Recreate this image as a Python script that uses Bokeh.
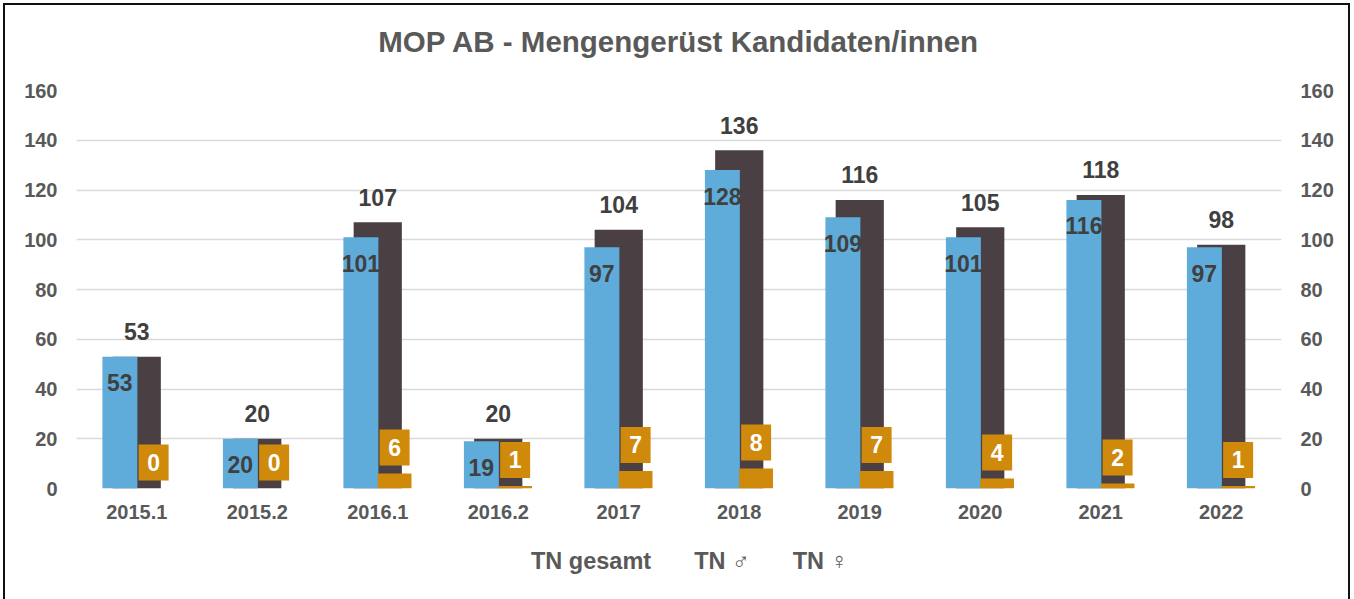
from bokeh.plotting import figure
from bokeh.models import (FactorRange, Range1d, ColumnDataSource, LinearAxis, FixedTicker,
                          LabelSet, Legend, LegendItem, CDSView, IndexFilter)
from bokeh.layouts import column
from bokeh.transform import dodge
from bokeh.core.properties import value
from bokeh.embed import file_html
from bokeh.resources import INLINE

# ---- data ----
categories = ["2015.1", "2015.2", "2016.1", "2016.2", "2017", "2018", "2019", "2020", "2021", "2022"]
tn_gesamt = [53, 20, 107, 20, 104, 136, 116, 105, 118, 98]
tn_male = [53, 20, 101, 19, 97, 128, 109, 101, 116, 97]
tn_female = [0, 0, 6, 1, 7, 8, 7, 4, 2, 1]
y_ticks = [0, 20, 40, 60, 80, 100, 120, 140, 160]

title_text = "MOP AB - Mengengerüst Kandidaten/innen"
series_names = ["TN gesamt", "TN \u2642", "TN \u2640"]

C_DARK = "#4A4044"
C_BLUE = "#5FACDB"
C_ORANGE = "#D08A0B"
C_TEXT = "#595959"
C_LABEL = "#404040"
C_BORDER = "#111111"
FONT = value("Liberation Sans")

src = ColumnDataSource(dict(
    cats=categories,
    total=tn_gesamt,
    male=tn_male,
    female=tn_female,
    total_s=[str(v) for v in tn_gesamt],
    male_s=[str(v) for v in tn_male],
    female_s=[str(v) for v in tn_female],
))

W = 1347

def strip(height, styles, x_range=None, y_range=None):
    f = figure(width=W, height=height, output_backend="svg", toolbar_location=None,
               x_range=x_range if x_range is not None else Range1d(0, 1),
               y_range=y_range if y_range is not None else Range1d(0, 1),
               x_axis_type=None, y_axis_type=None, min_border=0)
    f.styles = styles
    f.outline_line_color = None
    f.grid.visible = False
    f.background_fill_color = "white"
    f.border_fill_color = "white"
    return f

# ---- title strip ----
tf = strip(62, {"border": "2px solid " + C_BORDER, "border-bottom": "none",
                "margin-left": "3px", "margin-top": "3px"})
tf.text(x=[0.5], y=[0.416], text=[title_text], text_align="center", text_baseline="middle",
        text_font=FONT, text_font_style="bold", text_font_size="29.5px", text_color=C_TEXT)

# ---- main chart ----
p = figure(width=W, height=475, output_backend="svg", toolbar_location=None,
           x_range=FactorRange(*categories, range_padding=0),
           y_range=Range1d(0, 160),
           min_border_left=71, min_border_right=71, min_border_top=25, min_border_bottom=52)
p.styles = {"border": "2px solid " + C_BORDER, "border-top": "none", "border-bottom": "none",
            "margin-left": "3px"}
p.outline_line_color = None
p.background_fill_color = "white"
p.border_fill_color = "white"

r_tot = p.vbar(x="cats", top="total", width=0.4, source=src, fill_color=C_DARK, line_color=None)
r_male = p.vbar(x=dodge("cats", -0.14, range=p.x_range), top="male", width=0.29, source=src,
                fill_color=C_BLUE, line_color=None)
r_fem = p.vbar(x=dodge("cats", 0.14, range=p.x_range), top="female", width=0.28, source=src,
               fill_color=C_ORANGE, line_color=None)

p.add_layout(LabelSet(x="cats", y="total", text="total_s", source=src, y_offset=25,
                      text_align="center", text_baseline="middle", text_font=FONT,
                      text_font_style="bold", text_font_size="23px", text_color=C_LABEL))
p.add_layout(LabelSet(x=dodge("cats", -0.14, range=p.x_range), y="male", text="male_s", source=src,
                      y_offset=-26, text_align="center", text_baseline="middle", text_font=FONT,
                      text_font_style="bold", text_font_size="23px", text_color=C_LABEL))
p.rect(x=dodge("cats", 0.14, range=p.x_range), y=dodge("female", 10.5), width=30, height=36,
       width_units="screen", height_units="screen", source=src, fill_color=C_ORANGE, line_color=None)
p.text(x=dodge("cats", 0.14, range=p.x_range), y=dodge("female", 10.5), text="female_s", source=src,
       text_align="center", text_baseline="middle", text_font=FONT, text_font_style="bold",
       text_font_size="23px", text_color="white")

def style_axis(ax, standoff):
    ax.axis_line_color = None
    ax.major_tick_line_color = None
    ax.minor_tick_line_color = None
    ax.major_tick_out = 0
    ax.major_tick_in = 0
    ax.minor_tick_out = 0
    ax.major_label_standoff = standoff
    ax.major_label_text_font = "Liberation Sans"
    ax.major_label_text_font_style = "bold"
    ax.major_label_text_font_size = "20px"
    ax.major_label_text_color = C_TEXT

p.yaxis.ticker = FixedTicker(ticks=y_ticks)
style_axis(p.yaxis[0], 19)
style_axis(p.xaxis[0], 16)

right = LinearAxis(ticker=FixedTicker(ticks=y_ticks))
style_axis(right, 19)
p.add_layout(right, "right")

p.xgrid.grid_line_color = None
p.ygrid.ticker = FixedTicker(ticks=y_ticks)
p.ygrid.grid_line_color = "#D9D9D9"
p.ygrid.grid_line_width = 1.5

# ---- legend strip: key renderers with an empty view (nothing drawn, swatches only) ----
lf = strip(59, {"border": "2px solid " + C_BORDER, "border-top": "none", "border-bottom": "none",
                "margin-left": "3px"},
           x_range=p.x_range, y_range=Range1d(-2, -1))
no_rows = CDSView(filter=IndexFilter(indices=[]))
k_tot = lf.vbar(x="cats", top="total", width=0.4, source=src, view=no_rows,
                fill_color=C_DARK, line_color=None)
k_male = lf.vbar(x="cats", top="male", width=0.29, source=src, view=no_rows,
                 fill_color=C_BLUE, line_color=None)
k_fem = lf.vbar(x="cats", top="female", width=0.28, source=src, view=no_rows,
                fill_color=C_ORANGE, line_color=None)

legend = Legend(items=[LegendItem(label=series_names[0], renderers=[k_tot]),
                       LegendItem(label=series_names[1], renderers=[k_male]),
                       LegendItem(label=series_names[2], renderers=[k_fem])],
                orientation="horizontal", location=(436, 24), padding=0, margin=0,
                spacing=24, label_standoff=5, glyph_width=14, glyph_height=14,
                border_line_color=None, background_fill_alpha=0,
                label_text_font="Liberation Sans", label_text_font_style="bold",
                label_text_font_size="23.5px", label_text_color=C_TEXT)
lf.add_layout(legend)

layout = column(tf, p, lf, spacing=0)
open("out.html", "w").write(file_html(layout, INLINE))
